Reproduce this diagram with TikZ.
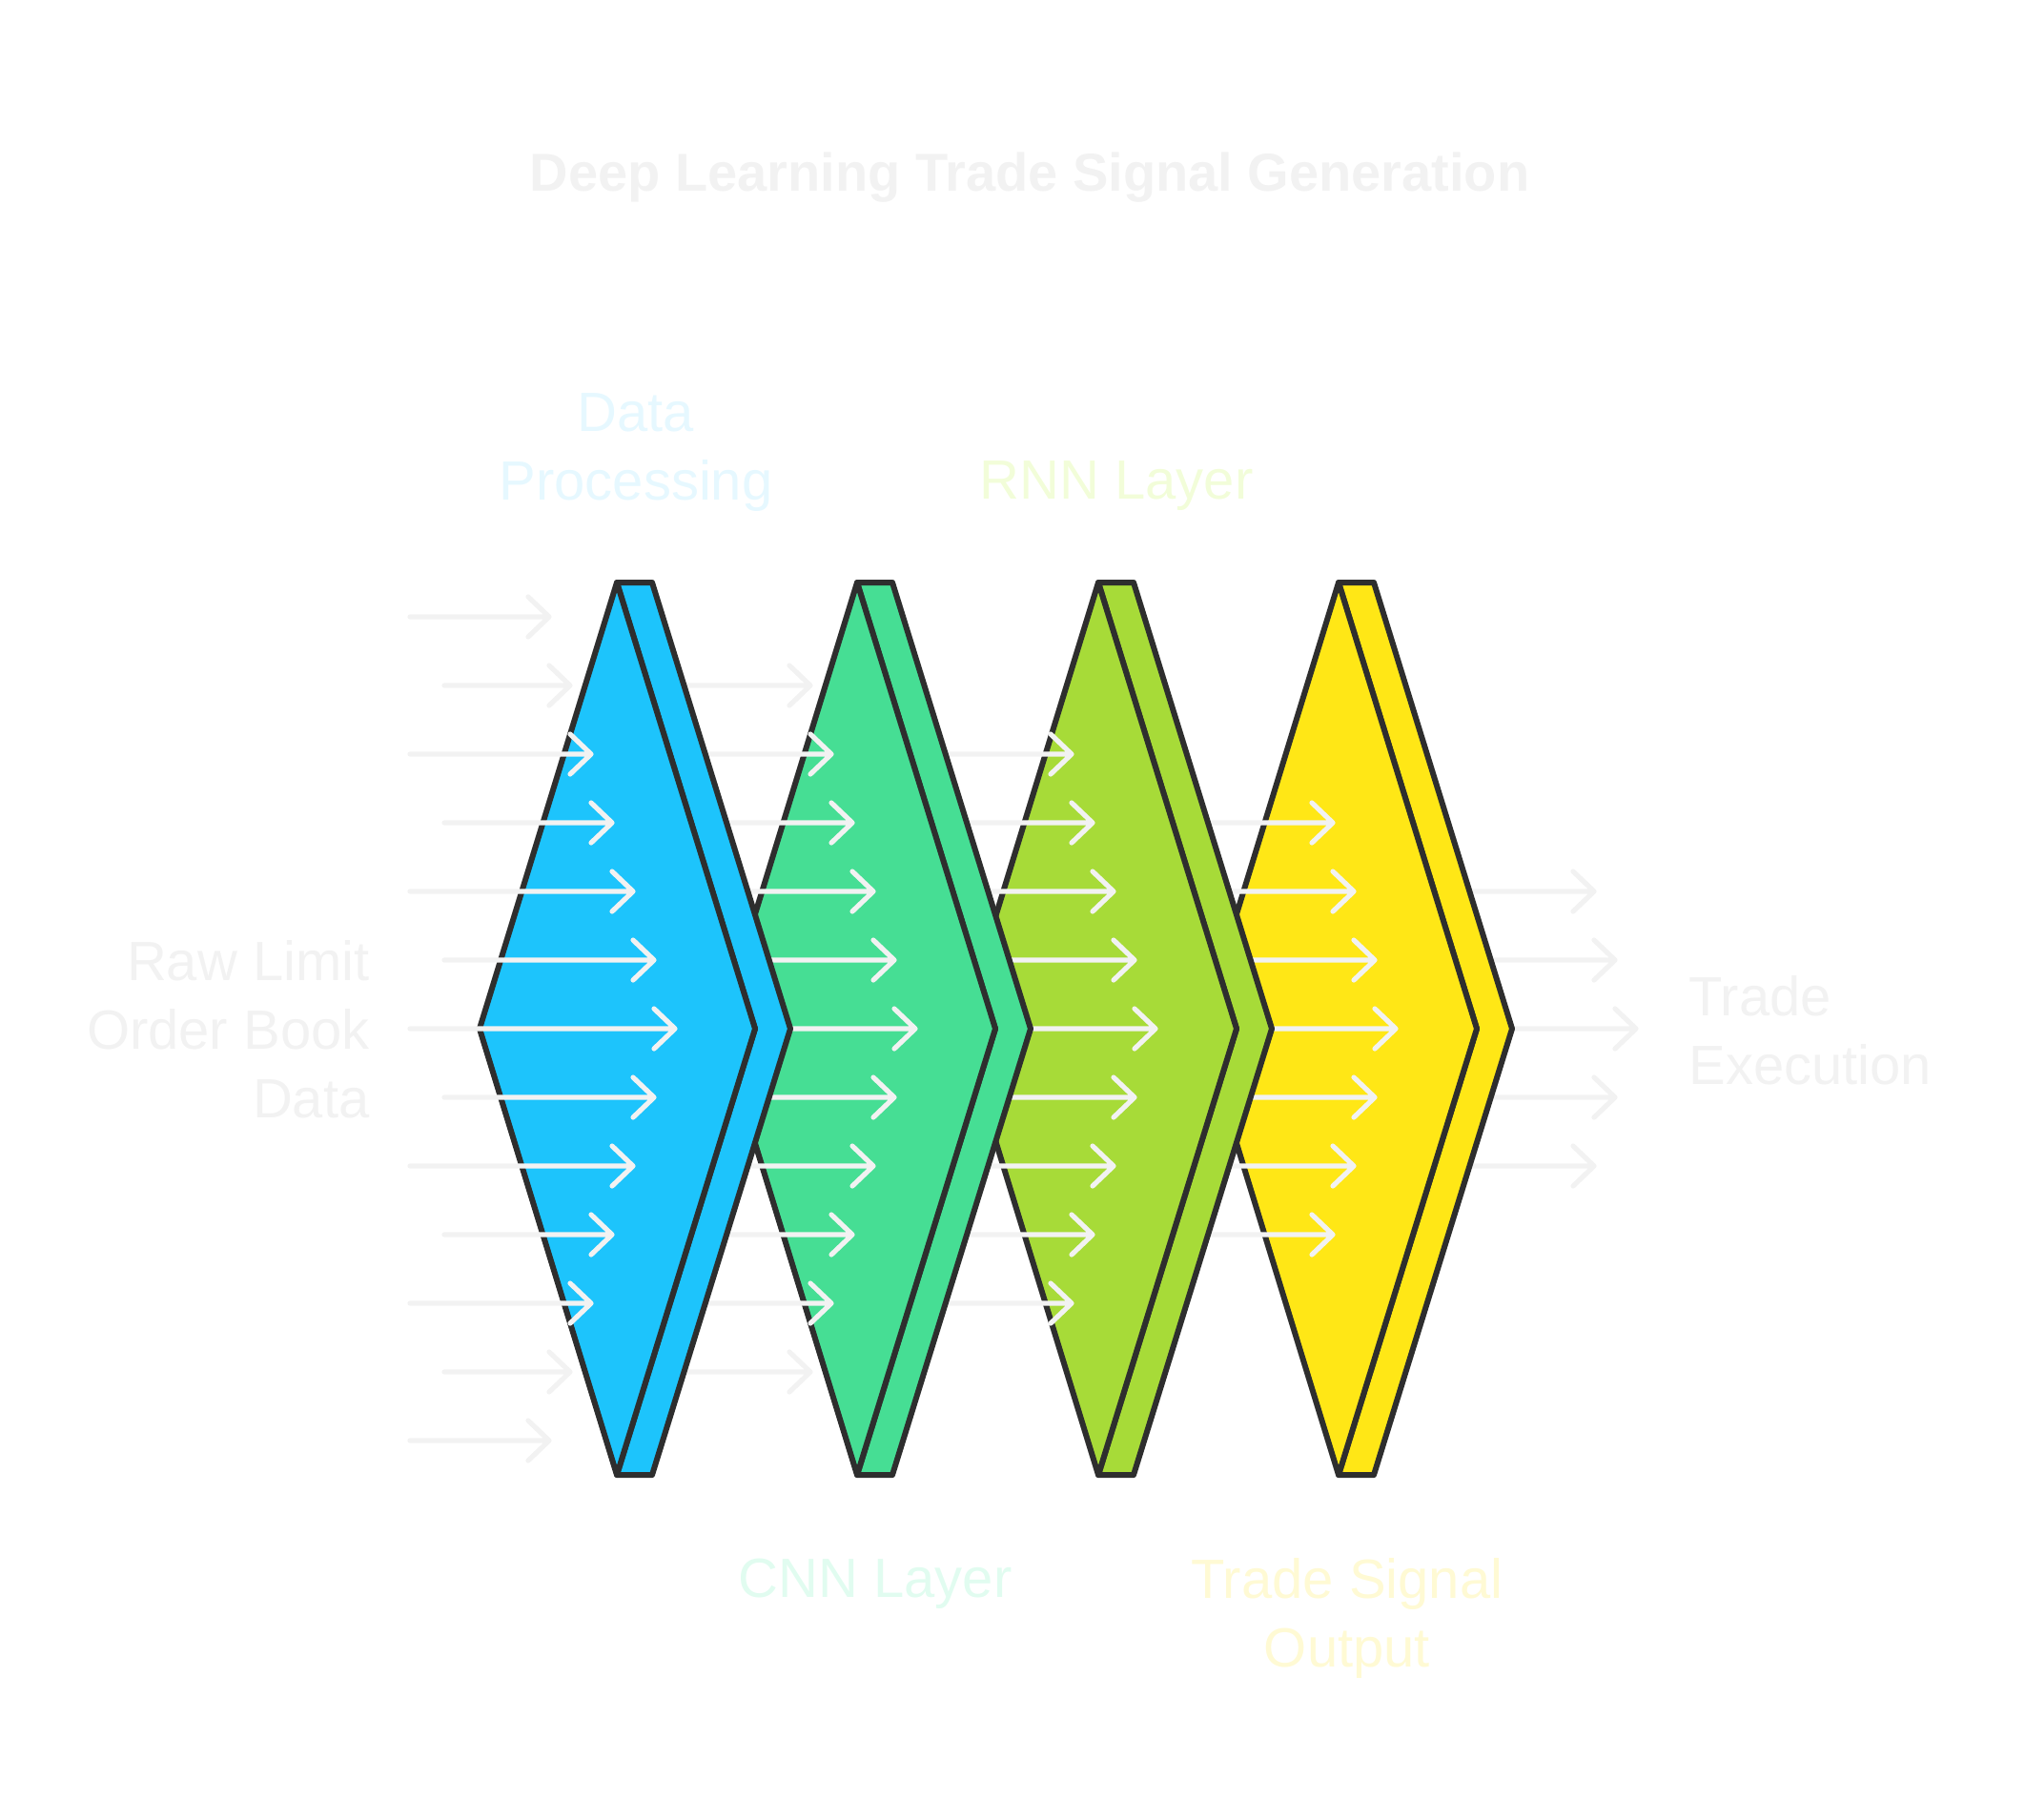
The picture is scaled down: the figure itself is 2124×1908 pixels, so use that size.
\documentclass[tikz,border=0pt]{standalone}
\usepackage{fontspec}
\setmainfont{Liberation Sans}

\definecolor{azul}{HTML}{1DC4FC}
\definecolor{verde}{HTML}{46DE94}
\definecolor{lima}{HTML}{A7DB38}
\definecolor{amarillo}{HTML}{FFE716}
\definecolor{contorno}{HTML}{2E2E2E}
\definecolor{gris}{HTML}{F2F2F2}
\definecolor{textazul}{HTML}{E6F8FF}
\definecolor{textverde}{HTML}{E1FCF0}
\definecolor{textlima}{HTML}{F2FDD9}
\definecolor{textamarillo}{HTML}{FFFAD4}

\tikzset{
  capa/.style={draw=contorno, line width=3pt, line join=round},
  flecha/.style={draw=gris, line width=2.6pt, line cap=round, line join=round},
  etiqueta/.style={font=\fontsize{29}{36}\selectfont, inner sep=0pt},
  titulo/.style={font=\bfseries\fontsize{28}{34}\selectfont, inner sep=0pt, text=gris}
}

% fila de flechas del grupo #1 (0 = entrada, 4 = salida)
\newcommand{\flechas}[1]{%
  \pgfmathtruncatemacro{\n}{6-#1}
  \foreach \k in {-\n,...,\n}{
    \pgfmathsetmacro{\xs}{430+252*#1+36*mod(abs(\k),2)}
    \pgfmathsetmacro{\xt}{708+252*#1-22*abs(\k)}
    \coordinate (ini) at (\xs,1079+72*\k);
    \coordinate (fin) at (\xt,1079+72*\k);
    \draw[flecha] (ini) -- (fin) ++(-22,-21) -- (fin) -- ++(-22,21);
  }}

% capa en forma de punta con su borde
\newcommand{\capa}[2]{%
  \draw[capa, fill=#2] (#1,611) -- (#1+37,611) -- (#1+182,1079) -- (#1+37,1547)
    -- (#1,1547) -- (#1+145,1079) -- cycle;
  \draw[capa, fill=#2] (#1,611) -- (#1+145,1079) -- (#1,1547) -- (#1-144,1079) -- cycle;
}

\begin{document}
\begin{tikzpicture}[x=0.5pt,y=-0.5pt]
  \useasboundingbox (0,0) rectangle (2124,1908);

  % Titulo
  \node[titulo, anchor=base] (titulo) at (1080,200) {Deep Learning Trade Signal Generation};

  % Capas y flechas, de derecha a izquierda
  \flechas{4}
  \capa{1404}{amarillo}
  \flechas{3}
  \capa{1152}{lima}
  \flechas{2}
  \capa{899}{verde}
  \flechas{1}
  \capa{647}{azul}
  \flechas{0}

  % Etiquetas (base = ultima linea)
  \node[etiqueta, anchor=base, align=center, text=textazul] (datos) at (667,524) {Data\\Processing};
  \node[etiqueta, anchor=base, text=textlima] (rnn) at (1171,523) {RNN Layer};
  \node[etiqueta, anchor=base, text=textverde] (cnn) at (918,1675) {CNN Layer};
  \node[etiqueta, anchor=base, align=center, text=textamarillo] (senal) at (1413,1748) {Trade Signal\\Output};
  \node[etiqueta, anchor=base east, align=right, text=gris] (entrada) at (388,1172) {Raw Limit\\Order Book\\Data};
  \node[etiqueta, anchor=base west, align=left, text=gris] (ejecucion) at (1771,1137) {Trade\\Execution};
\end{tikzpicture}
\end{document}
